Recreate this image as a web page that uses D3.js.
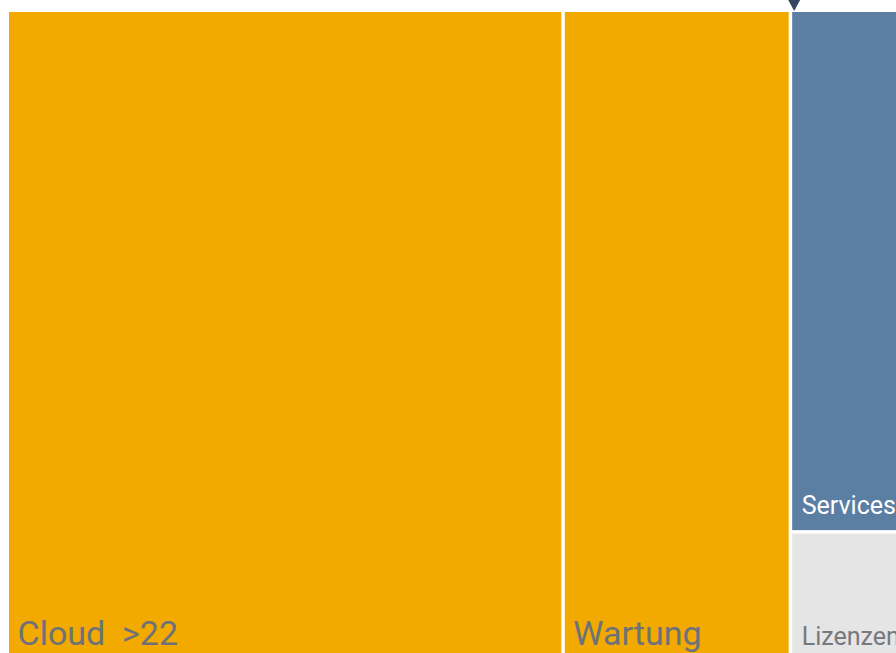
<!DOCTYPE html>
<html>
<head>
<meta charset="utf-8">
<script src="https://cdn.jsdelivr.net/npm/d3@7"></script>
<style>
  html, body { margin: 0; padding: 0; background: #fff; overflow: hidden; }
  svg { display: block; }
  text { font-family: Roboto, "Noto Sans", sans-serif; }
</style>
</head>
<body>
<div id="chart"></div>
<script>
/* Umsatzanteile (Ziel): Cloud, Wartung, Services, Lizenzen */
const groups     = ['Cloud', 'Wartung', 'Rest'];
const labels     = ['Cloud  >22', 'Wartung', 'Services', 'Lizenzen'];
const categories = ['Cloud', 'Wartung', 'Services', 'Lizenzen'];
const values     = [22, 9, 4, 1];
const parentOf   = ['Cloud', 'Wartung', 'Rest', 'Rest'];

const COLORS = {
  Cloud   : '#F2A900',
  Wartung : '#F2A900',
  Services: '#5B7EA3',
  Lizenzen: '#E5E5E5',
  marker  : '#34465F'
};
const TEXT = {
  Cloud   : { color: '#6E7278', size: 34 },
  Wartung : { color: '#6E7278', size: 34 },
  Services: { color: '#FFFFFF', size: 25 },
  Lizenzen: { color: '#77797D', size: 25 }
};

// Fläche: rechts/unten angeschnitten wie im Original
const margin = { left: 9, top: 12 };
const W = 906, H = 648.5;

const svg = d3.select('#chart').append('svg')
  .attr('width', 896)
  .attr('height', 653);

const g = svg.append('g')
  .attr('transform', `translate(${margin.left},${margin.top})`);

// Hierarchie aus den Arrays bauen
const tree = {
  name: 'root',
  children: groups.map(gr => {
    const idx = categories.map((c, i) => i).filter(i => parentOf[i] === gr);
    if (idx.length === 1 && categories[idx[0]] === gr) {
      return { name: gr, value: values[idx[0]], label: labels[idx[0]] };
    }
    return {
      name: gr,
      children: idx.map(i => ({ name: categories[i], value: values[i], label: labels[i] }))
    };
  })
};

const root = d3.hierarchy(tree).sum(d => d.value || 0);

d3.treemap()
  .tile(d3.treemapSliceDice)
  .size([W, H])
  .paddingInner(3.5)
  .round(false)(root);

const leaves = g.selectAll('g.leaf')
  .data(root.leaves())
  .join('g')
    .attr('class', 'leaf');

leaves.append('rect')
  .attr('x', d => d.x0)
  .attr('y', d => d.y0)
  .attr('width', d => d.x1 - d.x0)
  .attr('height', d => d.y1 - d.y0)
  .attr('fill', d => COLORS[d.data.name]);

leaves.append('text')
  .attr('x', d => d.x0 + (TEXT[d.data.name].size > 30 ? 8.5 : 9.5))
  .attr('y', d => d.y1 - 16)
  .attr('fill', d => TEXT[d.data.name].color)
  .style('font-size', d => TEXT[d.data.name].size + 'px')
  .style('white-space', 'pre')
  .attr('xml:space', 'preserve')
  .text(d => d.data.label);

// Markierung oben am Übergang zu Services
const services = root.leaves().find(d => d.data.name === 'Services');
const mx = margin.left + services.x0 + 2;
svg.append('path')
  .attr('d', d3.line()([[mx - 6.5, -1], [mx + 6.5, -1], [mx, 11]]) + 'Z')
  .attr('fill', COLORS.marker);
</script>
</body>
</html>
